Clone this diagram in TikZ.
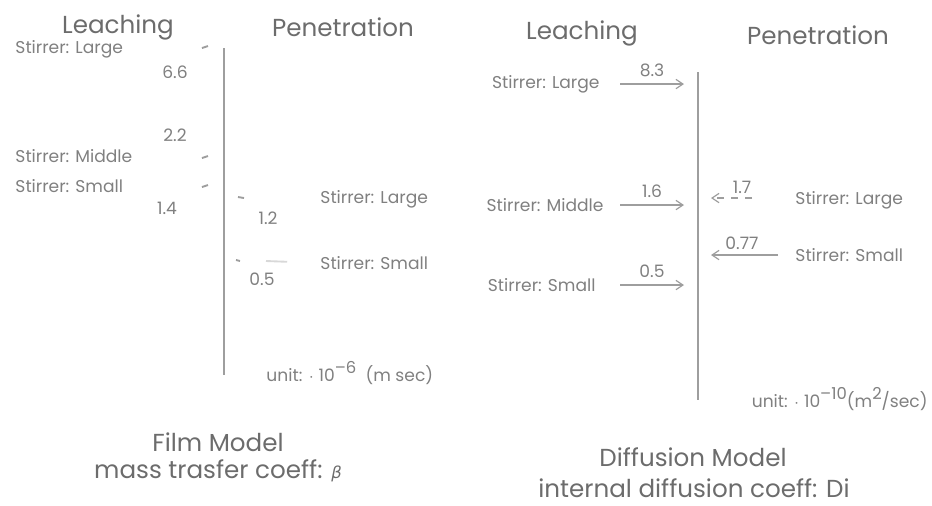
\documentclass[tikz,border=0pt]{standalone}
\usepackage{fontspec}
\setmainfont{Poppins}
\newfontfamily\greekfont{DejaVu Sans}
\usetikzlibrary{arrows.meta,positioning}
\definecolor{ink}{gray}{0.5}
\definecolor{faint}{gray}{0.62}
\newcommand\upper[1]{\raisebox{0.9ex}{\fontsize{7}{8}\selectfont #1}}
\tikzset{
  lbl/.style={text=ink,font=\fontsize{7.3}{9}\selectfont,inner sep=0pt},
  head/.style={text=ink!85!black,font=\fontsize{10.5}{13}\selectfont,inner sep=0pt},
  flow/.style={draw=faint,line width=0.5pt,-{Straight Barb[length=3pt,width=4pt]}},
  stub/.style={draw=faint,line width=0.8pt},
  wall/.style={draw=faint,line width=1pt},
}
\begin{document}
\begin{tikzpicture}[x=0.015cm,y=-0.015cm]
\useasboundingbox (0,0) rectangle (932,505);
% ================= film model =================
\node[head] (leachA) at (118,27) {Leaching};
\node[head] (penA) at (343,27) {Penetration};
\coordinate (wallAtop) at (224,48);
\coordinate (wallAbot) at (224,375);
\draw[wall] (wallAtop) -- (wallAbot);
% leaching side (arrows faded to stubs)
\node[lbl,anchor=west] (aLarge) at (15,49) {Stirrer: Large};
\node[lbl] (vLarge) at (175,72) {6.6};
\node[lbl,anchor=west] (aMiddle) at (15,156) {Stirrer: Middle};
\node[lbl] (vMiddle) at (175,135) {2.2};
\node[lbl,anchor=west] (aSmall) at (15,186) {Stirrer: Small};
\node[lbl] (vSmall) at (167,208) {1.4};
\foreach \y in {47,157,186}{
  \coordinate (sa) at (202,\y+1);
  \coordinate (sb) at (208,\y-1);
  \draw[stub] (sa) -- (sb);
}
% penetration side
\node[lbl,anchor=west] (pLarge) at (320,199) {Stirrer: Large};
\node[lbl] (wLarge) at (268,218) {1.2};
\node[lbl,anchor=west] (pSmall) at (320,263) {Stirrer: Small};
\node[lbl] (wSmall) at (262,279) {0.5};
\coordinate (sc) at (238,197);
\coordinate (sd) at (244,198);
\draw[stub] (sc) -- (sd);
\coordinate (se) at (236,260);
\coordinate (sf) at (240,261);
\draw[stub] (se) -- (sf);
\coordinate (sg) at (266,261);
\draw[draw=faint!40,line width=0.8pt,shorten >=14pt] (sg) -- (pSmall.west);
\node[lbl,anchor=west] (unitA) at (266,373) {unit: $\cdot$ 10\upper{--6}\ \ (m sec)};
\node[head] (filmA) at (218,442) {Film Model};
\node[head] (filmB) at (218,471) {mass trasfer coeff: {\greekfont\fontsize{7}{8}\selectfont\itshape β}};
% ================= diffusion model =================
\node[head] (leachB) at (582,33) {Leaching};
\node[head] (penB) at (818,35) {Penetration};
\coordinate (wallBtop) at (698,72);
\coordinate (wallBbot) at (698,400);
\draw[wall] (wallBtop) -- (wallBbot);
% leaching side
\foreach \s/\y/\r/\v in {Large/84/600/8.3,Middle/205/604/1.6,Small/285/596/0.5}{
  \node[lbl,anchor=east] (l\s) at (\r,\y) {Stirrer: \s};
  \coordinate (t\s) at (620,\y);
  \coordinate (h\s) at (684,\y);
  \draw[flow] (t\s) -- node[lbl,above=3pt] (d\s) {\v} (h\s);
}
% penetration side
\node[lbl,anchor=west] (rLarge) at (795,200) {Stirrer: Large};
\node[lbl,anchor=west] (rSmall) at (795,255) {Stirrer: Small};
\coordinate (uLarge) at (752,198);
\coordinate (eLarge) at (711,198);
\draw[flow,dashed] (uLarge) -- (eLarge);
\node[lbl] (dLargeR) at (742,187) {1.7};
\coordinate (uSmall) at (778,255);
\coordinate (eSmall) at (711,255);
\draw[flow] (uSmall) -- (eSmall);
\node[lbl] (dSmallR) at (742,243) {0.77};
\node[lbl,anchor=east] (unitB) at (928,399) {unit: $\cdot$ 10\upper{--10}(m\upper{2}/sec)};
\node[head] (diffA) at (693,457) {Diffusion Model};
\node[head] (diffB) at (694,488) {internal diffusion coeff: Di};
\end{tikzpicture}
\end{document}
